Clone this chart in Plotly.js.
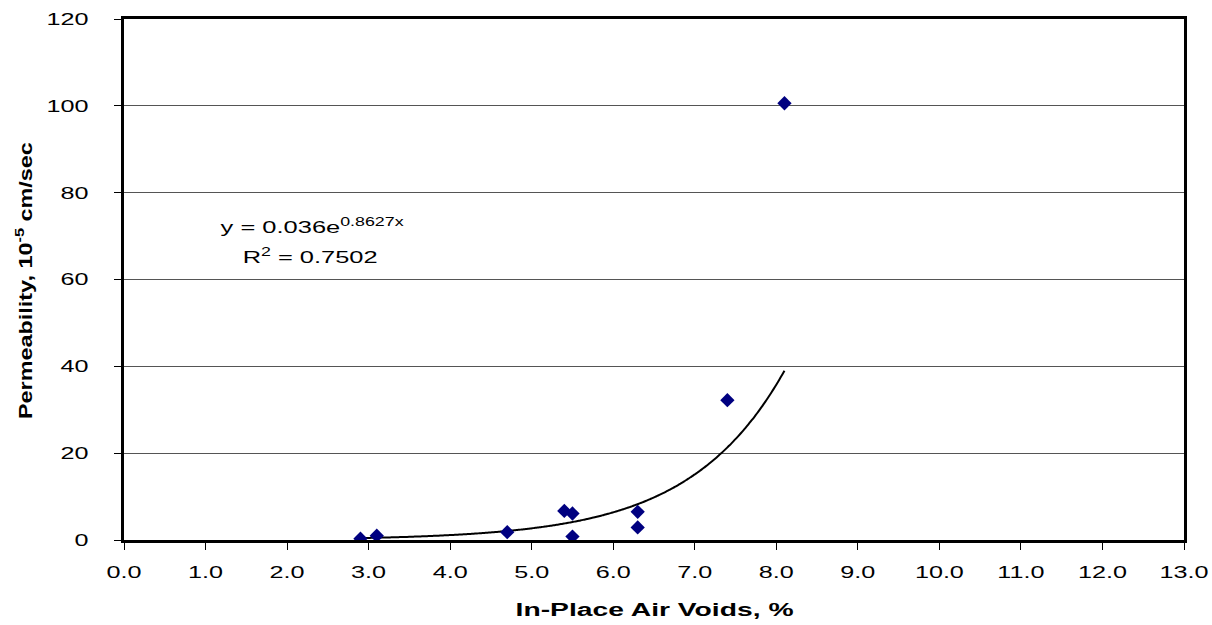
<!DOCTYPE html>
<html>
<head>
<meta charset="utf-8">
<script src="https://cdn.plot.ly/plotly-3.0.1.min.js"></script>
<style>
html,body{margin:0;padding:0;background:#fff;}
#chart{width:1212px;height:625px;}
</style>
</head>
<body>
<div id="chart"></div>
<script>
// Measured data
var airVoids = [2.9, 3.1, 4.7, 5.4, 5.5, 5.5, 6.3, 6.3, 7.4, 8.1];
var permeability = [0.3, 1.0, 1.8, 6.7, 6.1, 0.8, 6.5, 2.9, 32.2, 100.6];

// Exponential trendline coefficients as printed on the chart: y = a * e^(b x)
var trendCoef = [0.036, 0.8627];
var trendRange = [2.9, 8.1];

var xTickVals = [0,1,2,3,4,5,6,7,8,9,10,11,12,13];
var xTickText = ["0.0","1.0","2.0","3.0","4.0","5.0","6.0","7.0","8.0","9.0","10.0","11.0","12.0","13.0"];
var yTickVals = [0,20,40,60,80,100,120];

var xTitle = 'In-Place Air Voids, %';
var yTitle = 'Permeability, 10<sup>-5</sup> cm/sec';
var eqText = 'y = 0.036e<sup>0.8627x</sup>';
var r2Text = 'R<sup>2</sup> = 0.7502';

var trendX = [], trendY = [];
var steps = 200;
for (var i = 0; i <= steps; i++) {
  var xv = trendRange[0] + (trendRange[1] - trendRange[0]) * i / steps;
  trendX.push(xv);
  trendY.push(trendCoef[0] * Math.exp(trendCoef[1] * xv));
}

var traces = [
  {
    x: trendX, y: trendY, type: 'scatter', mode: 'lines',
    line: {color: '#000000', width: 2, shape: 'spline'},
    hoverinfo: 'skip', showlegend: false
  },
  {
    x: airVoids, y: permeability, type: 'scatter', mode: 'markers',
    marker: {symbol: 'diamond', size: 11, color: '#000080'},
    showlegend: false
  }
];

var FAM = 'Liberation Sans, Arial, sans-serif';
var tickFont = {family: FAM, size: 17, color: '#000'};
var titleFont = {family: FAM, size: 18, color: '#000', weight: 'bold'};
var noteFont = {family: FAM, size: 17, color: '#000'};

var layout = {
  width: 1212, height: 625,
  margin: {l: 124, r: 28, t: 19, b: 85},
  paper_bgcolor: '#ffffff', plot_bgcolor: '#ffffff',
  showlegend: false,
  xaxis: {
    range: [0, 13], tickvals: xTickVals, ticktext: xTickText,
    showgrid: false, zeroline: false,
    showline: true, linecolor: '#000', linewidth: 3, mirror: true,
    ticks: 'outside', ticklen: 7, tickwidth: 1, tickcolor: '#000',
    ticklabelstandoff: 8,
    tickfont: tickFont
  },
  yaxis: {
    range: [0, 120], tickvals: yTickVals,
    showgrid: true, gridcolor: '#555555', gridwidth: 1,
    zeroline: false,
    showline: true, linecolor: '#000', linewidth: 3, mirror: true,
    ticks: 'outside', ticklen: 7, tickwidth: 1, tickcolor: '#000',
    ticklabelstandoff: 22,
    tickfont: tickFont
  },
  annotations: [
    {
      xref: 'paper', yref: 'paper', x: 0.1769, y: 0.603, xanchor: 'center', yanchor: 'middle',
      text: eqText, showarrow: false, font: noteFont
    },
    {
      xref: 'paper', yref: 'paper', x: 0.1759, y: 0.545, xanchor: 'center', yanchor: 'middle',
      text: r2Text, showarrow: false, font: noteFont
    },
    {
      xref: 'paper', yref: 'paper', x: 0.5, y: -0.1353, xanchor: 'center', yanchor: 'middle',
      text: '<b>' + xTitle + '</b>', showarrow: false, font: titleFont
    },
    {
      xref: 'paper', yref: 'paper', x: -0.0943, y: 0.497, xanchor: 'center', yanchor: 'middle',
      text: '<b>' + yTitle + '</b>', showarrow: false, font: titleFont, textangle: -90
    }
  ]
};

// The reference uses a horizontally widened face; stretch the glyphs to match.
var annotationWidths = [183, 135, 278, 277];
var tickStretch = 1.48;

Plotly.newPlot('chart', traces, layout, {displayModeBar: false, staticPlot: true}).then(function (gd) {
  gd.querySelectorAll('.xtick text, .ytick text').forEach(function (t) {
    var L = t.getComputedTextLength();
    if (L > 0) {
      t.setAttribute('textLength', (L * tickStretch).toFixed(1));
      t.setAttribute('lengthAdjust', 'spacingAndGlyphs');
    }
  });
  var ann = gd.querySelectorAll('.annotation-text');
  ann.forEach(function (t, k) {
    if (annotationWidths[k]) {
      t.setAttribute('textLength', annotationWidths[k]);
      t.setAttribute('lengthAdjust', 'spacingAndGlyphs');
    }
  });
});
</script>
</body>
</html>
